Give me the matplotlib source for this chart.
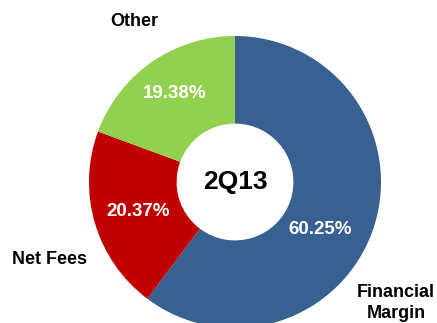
import matplotlib
matplotlib.use("Agg")
import matplotlib.pyplot as plt

# Revenue mix, 2Q13
categories = ["Financial\nMargin", "Net Fees", "Other"]
shares = [60.25, 20.37, 19.38]
colors = ["#386192", "#C00000", "#92D050"]
center_label = "2Q13"

plt.rcParams["font.family"] = ["Liberation Sans", "DejaVu Sans"]

W, H = 437, 323
fig = plt.figure(figsize=(W / 100, H / 100), dpi=100)
ax = fig.add_axes([0, 0, 1, 1])

cx, cy = 235, H - 182
R = 146
ring = 0.6

wedges, _ = ax.pie(
    shares, colors=colors, startangle=90, counterclock=False,
    center=(cx, cy), radius=R,
    wedgeprops=dict(width=R * ring, edgecolor="none", linewidth=0),
)
ax.set_xlim(0, W)
ax.set_ylim(0, H)
ax.set_aspect("equal")
ax.axis("off")

# percentage labels inside the ring
pct_pos = [(320, 229), (138, 212), (175, 94)]
for v, (x, y) in zip(shares, pct_pos):
    ax.text(x, H - y, f"{v:.2f}%", color="white", fontsize=13.5,
            fontweight="bold", ha="center", va="center")

# category labels outside the ring
cat_pos = [(396, 303), (49, 260), (134, 22)]
for name, (x, y) in zip(categories, cat_pos):
    ax.text(x, H - y, name, color="black", fontsize=13, fontweight="bold",
            ha="center", va="center", linespacing=1.25)

ax.text(cx, cy, center_label, color="black", fontsize=19,
        fontweight="bold", ha="center", va="center")

fig.savefig("out.png", dpi=100)
